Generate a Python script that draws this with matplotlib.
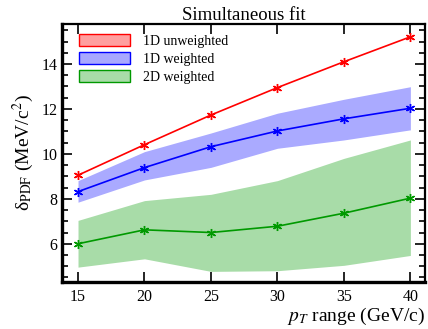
import matplotlib
matplotlib.use("Agg")
import matplotlib.pyplot as plt
from matplotlib.ticker import MultipleLocator

plt.rcParams["font.family"] = ["Liberation Serif", "DejaVu Serif"]
plt.rcParams["mathtext.fontset"] = "stix"

pt = [15, 20, 25, 30, 35, 40]
unw = [9.05, 10.41, 11.73, 12.95, 14.1, 15.21]
w1d = [8.32, 9.39, 10.32, 11.02, 11.56, 12.03]
w1d_hi = [8.81, 10.1, 10.93, 11.81, 12.43, 12.99]
w1d_lo = [7.85, 8.84, 9.4, 10.25, 10.62, 11.07]
w2d = [6.0, 6.62, 6.5, 6.78, 7.36, 8.03]
w2d_hi = [7.04, 7.92, 8.2, 8.81, 9.8, 10.62]
w2d_lo = [4.96, 5.33, 4.77, 4.8, 5.04, 5.48]

RED, BLUE, GREEN = "#ff0000", "#0000ff", "#009900"
star = (6, 2, 0)

fig = plt.figure(figsize=(4.28, 3.29), dpi=100)
ax = fig.add_axes([0.145, 0.143, 0.848, 0.784])

ax.fill_between(pt, w2d_lo, w2d_hi, color="#a8dca8", lw=0)
ax.fill_between(pt, w1d_lo, w1d_hi, color="#aaaaff", lw=0)
ax.plot(pt, unw, color=RED, lw=1.2, marker=star, ms=6.5, mew=1)
ax.plot(pt, w1d, color=BLUE, lw=1.2, marker=star, ms=6.5, mew=1)
ax.plot(pt, w2d, color=GREEN, lw=1.2, marker=star, ms=6.5, mew=1)

h1 = plt.Rectangle((0, 0), 1, 1, fc="#ff9f9f", ec=RED, lw=1)
h2 = plt.Rectangle((0, 0), 1, 1, fc="#a8a8ff", ec=BLUE, lw=1)
h3 = plt.Rectangle((0, 0), 1, 1, fc="#a8dca8", ec=GREEN, lw=1)
ax.legend([h1, h2, h3], ["1D unweighted", "1D weighted", "2D weighted"],
          loc="upper left", frameon=False, fontsize=10, handlelength=3.7,
          handleheight=1.0, handletextpad=0.9, labelspacing=0.3,
          borderaxespad=0.3, bbox_to_anchor=(0.02, 1.0))

ax.set_xlim(13.8, 41.1)
ax.set_ylim(4.3, 15.78)
ax.set_xticks(pt)
ax.yaxis.set_major_locator(MultipleLocator(2))
ax.yaxis.set_minor_locator(MultipleLocator(0.5))
ax.tick_params(which="both", direction="in", top=True, right=True, labelsize=11.5, width=1.2)
ax.tick_params(which="major", length=7)
ax.tick_params(which="minor", length=4)
ax.tick_params(axis="x", pad=5)
for s in ax.spines.values():
    s.set_linewidth(1.6)
ax.spines["bottom"].set_linewidth(2.4)
ax.spines["left"].set_linewidth(2.4)

ax.set_title("Simultaneous fit", fontsize=13.5, pad=2)
ax.set_xlabel(r"$p_T$ range (GeV/c)", fontsize=14, loc="right", labelpad=1)
ax.set_ylabel(r"δ$_{\rm PDF}$ (MeV/c$^2$)", fontsize=14, labelpad=4)

fig.savefig("out.png", dpi=100)
